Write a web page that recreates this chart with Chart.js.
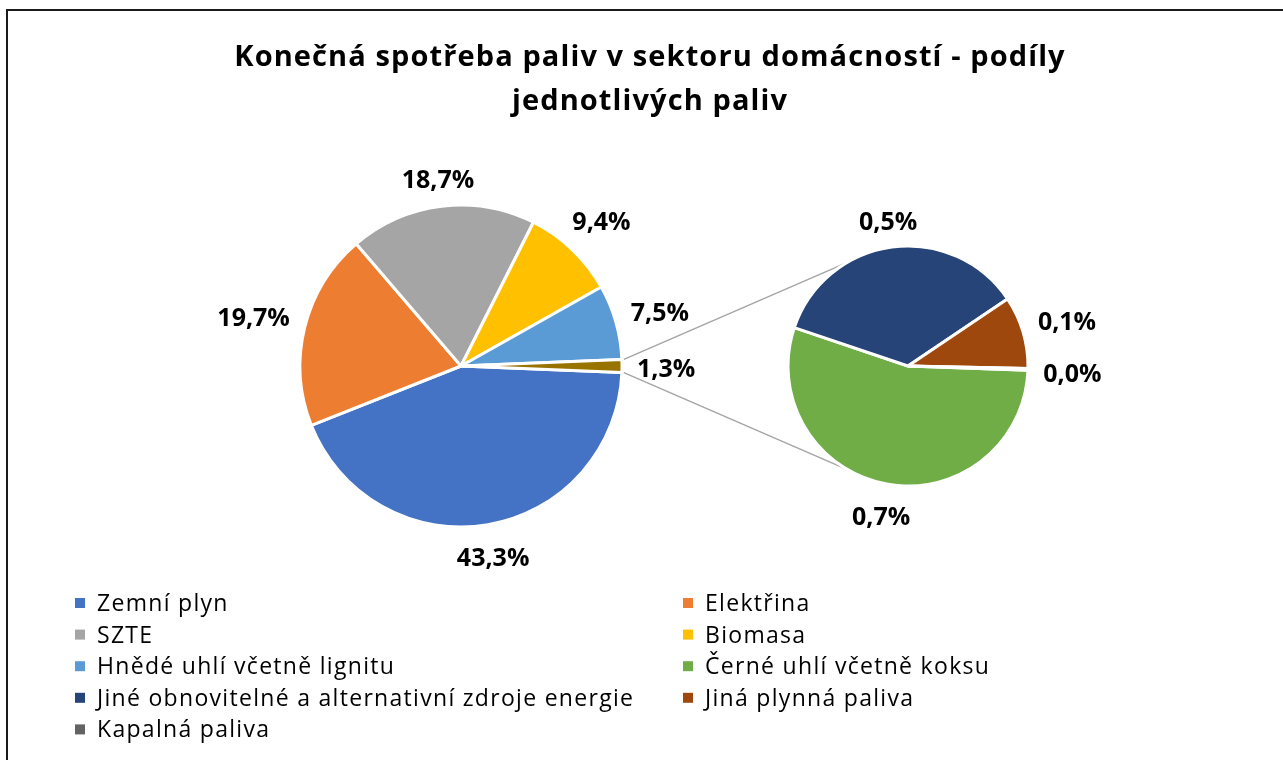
<!DOCTYPE html>
<html lang="cs">
<head>
<meta charset="utf-8">
<title>Konečná spotřeba paliv v sektoru domácností</title>
<script src="https://cdn.jsdelivr.net/npm/chart.js@4.4.1/dist/chart.umd.min.js"></script>
<style>
  html, body { margin: 0; padding: 0; background: #fff; }
  #wrap { position: relative; width: 1283px; height: 760px; overflow: hidden; }
  #wrap canvas { position: absolute; left: 0; top: 0; }
</style>
</head>
<body>
<div id="wrap">
  <canvas id="mainPie" width="1283" height="760"></canvas>
  <canvas id="subPie" width="1283" height="760"></canvas>
</div>
<script>
/* ── Datos ─────────────────────────────────────────── */
const TITLE_LINES = [
  "Konečná spotřeba paliv v sektoru domácností - podíly",
  "jednotlivých paliv",
];
const MAIN_LABELS = ["Zemní plyn", "Elektřina", "SZTE", "Biomasa", "Hnědé uhlí včetně lignitu"];
const MAIN_VALUES = [43.3, 19.7, 18.7, 9.4, 7.5];
const SUB_LABELS = [
  "Černé uhlí včetně koksu",
  "Jiné obnovitelné a alternativní zdroje energie",
  "Jiná plynná paliva",
  "Kapalná paliva",
];
const SUB_VALUES = [0.71, 0.46, 0.127, 0.003];

/* ── Estilos ───────────────────────────────────────── */
const MAIN_COLORS = ["#4472C4", "#ED7D31", "#A5A5A5", "#FFC000", "#5B9BD5"];
const OTHER_COLOR = "#997300";
const SUB_COLORS = ["#70AD47", "#264478", "#9E480E", "#636363"];
const FONT = "'Open Sans', 'Noto Sans', sans-serif";
const LABEL_FONT = "bold 25px " + FONT;
const LABEL_H = 20;
const LABEL_GAP = 15;

const otherValue = SUB_VALUES.reduce((a, b) => a + b, 0);
const mainData = [...MAIN_VALUES, otherValue];
const mainTotal = mainData.reduce((a, b) => a + b, 0);
// el segmento "otros" queda centrado a las 3 en punto
const mainRotation = 90 + (otherValue / mainTotal) * 180;

const fmt = (v) => v.toFixed(1).replace(".", ",") + "%";

/* ── Etiquetas de porcentaje fuera de cada sector ─── */
const arcLabelsPlugin = {
  id: "arcLabels",
  afterDatasetsDraw(chart) {
    const ctx = chart.ctx;
    const meta = chart.getDatasetMeta(0);
    const values = chart.data.datasets[0].data;
    ctx.save();
    ctx.font = LABEL_FONT;
    ctx.fillStyle = "#000";
    ctx.textAlign = "center";
    ctx.textBaseline = "middle";
    meta.data.forEach((arc, i) => {
      const { x, y, startAngle, endAngle, outerRadius } = arc.getProps(
        ["x", "y", "startAngle", "endAngle", "outerRadius"], true);
      const mid = (startAngle + endAngle) / 2;
      const ux = Math.cos(mid), uy = Math.sin(mid);
      const txt = fmt(values[i]);
      const w = ctx.measureText(txt).width;
      const d = outerRadius + LABEL_GAP + Math.abs(ux) * w / 2 + Math.abs(uy) * LABEL_H / 2;
      ctx.fillText(txt, x + ux * d, y + uy * d + 4);
    });
    ctx.restore();
  },
};

/* ── Marco, título y leyenda (dos columnas) ───────── */
const decorPlugin = {
  id: "decor",
  afterDraw(chart) {
    const ctx = chart.ctx;
    ctx.save();
    // marco
    ctx.strokeStyle = "#1a1a1a";
    ctx.lineWidth = 2;
    ctx.beginPath();
    ctx.moveTo(7, 800);
    ctx.lineTo(7, 10);
    ctx.lineTo(1300, 10);
    ctx.stroke();

    // título
    ctx.fillStyle = "#000";
    ctx.font = "bold 29px " + FONT;
    ctx.letterSpacing = "1.1px";
    ctx.textAlign = "center";
    ctx.textBaseline = "alphabetic";
    TITLE_LINES.forEach((t, i) => ctx.fillText(t, 650, 66 + i * 44));

    // leyenda
    const labels = [...MAIN_LABELS, ...SUB_LABELS];
    const colors = [...MAIN_COLORS, ...SUB_COLORS];
    ctx.font = "23px " + FONT;
    ctx.letterSpacing = "1.3px";
    ctx.textAlign = "left";
    labels.forEach((lbl, i) => {
      const col = i % 2, row = Math.floor(i / 2);
      const bx = col === 0 ? 75 : 683;
      const base = 611 + row * 31.6;
      ctx.fillStyle = colors[i];
      ctx.fillRect(bx, base - 13, 10, 10);
      ctx.fillStyle = "#000";
      ctx.fillText(lbl, bx + 22, base);
    });
    ctx.restore();
  },
};

/* ── Líneas de unión entre ambos círculos ─────────── */
const connectorPlugin = {
  id: "connector",
  beforeDatasetsDraw(chart) {
    const main = Chart.getChart("mainPie");
    if (!main) return;
    const arcs = main.getDatasetMeta(0).data;
    const other = arcs[arcs.length - 1];
    const o = other.getProps(["x", "y", "startAngle", "endAngle", "outerRadius"], true);
    const sub = chart.getDatasetMeta(0).data[0];
    const s = sub.getProps(["x", "y", "outerRadius"], true);
    const tA = (4 * Math.PI) / 3, bA = (2 * Math.PI) / 3;
    const ctx = chart.ctx;
    ctx.save();
    ctx.strokeStyle = "#A5A5A5";
    ctx.lineWidth = 1.5;
    ctx.beginPath();
    ctx.moveTo(o.x + (o.outerRadius + 2) * Math.cos(o.startAngle), o.y + (o.outerRadius + 2) * Math.sin(o.startAngle));
    ctx.lineTo(s.x + s.outerRadius * Math.cos(tA), s.y + s.outerRadius * Math.sin(tA));
    ctx.moveTo(o.x + (o.outerRadius + 2) * Math.cos(o.endAngle), o.y + (o.outerRadius + 2) * Math.sin(o.endAngle));
    ctx.lineTo(s.x + s.outerRadius * Math.cos(bA), s.y + s.outerRadius * Math.sin(bA));
    ctx.stroke();
    ctx.restore();
  },
};

const baseOptions = (padding) => ({
  responsive: false,
  animation: false,
  events: [],
  layout: { padding },
  plugins: { legend: { display: false }, tooltip: { enabled: false }, title: { display: false } },
});

new Chart(document.getElementById("mainPie"), {
  type: "pie",
  data: {
    labels: [...MAIN_LABELS, "Ostatní"],
    datasets: [{
      data: mainData,
      backgroundColor: [...MAIN_COLORS, OTHER_COLOR],
      borderColor: "#fff",
      borderWidth: 3,
      radius: 161,
      rotation: mainRotation,
    }],
  },
  options: baseOptions({ left: 300, right: 661, top: 205, bottom: 233 }),
  plugins: [arcLabelsPlugin, decorPlugin],
});

new Chart(document.getElementById("subPie"), {
  type: "pie",
  data: {
    labels: SUB_LABELS,
    datasets: [{
      data: SUB_VALUES,
      backgroundColor: SUB_COLORS,
      borderColor: "#fff",
      borderWidth: 3,
      radius: 120,
      rotation: 92,
    }],
  },
  options: baseOptions({ left: 788, right: 255, top: 246, bottom: 274 }),
  plugins: [connectorPlugin, arcLabelsPlugin],
});
</script>
</body>
</html>
